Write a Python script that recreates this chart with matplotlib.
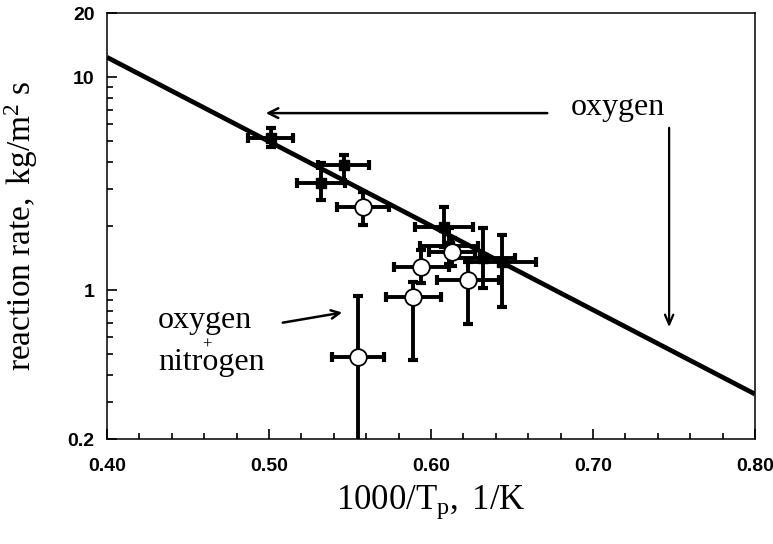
import numpy as np
import matplotlib
matplotlib.use("Agg")
import matplotlib.pyplot as plt
from matplotlib.ticker import FixedLocator, NullFormatter

plt.rcParams["mathtext.fontset"] = "custom"
plt.rcParams["mathtext.rm"] = "Liberation Serif"
plt.rcParams["mathtext.it"] = "Liberation Serif:italic"

# fitted rate line (end points on the axis range)
line_x = [0.40, 0.80]
line_y = [12.4, 0.325]

# oxygen runs (filled)
o2_x = [0.501, 0.532, 0.546, 0.608, 0.611, 0.632, 0.644]
o2_y = [5.2, 3.2, 3.85, 1.98, 1.62, 1.42, 1.35]
o2_xerr = [0.014, 0.015, 0.016, 0.018, 0.018, 0.020, 0.021]
o2_ylo = [4.7, 2.65, 3.2, 1.6, 1.32, 1.02, 0.83]
o2_yhi = [5.8, 3.95, 4.3, 2.45, 1.95, 1.96, 1.81]

# open symbols
op_x = [0.558, 0.613, 0.594, 0.623, 0.589, 0.555]
op_y = [2.45, 1.51, 1.28, 1.11, 0.93, 0.485]
op_xerr = [0.016, 0.014, 0.017, 0.019, 0.017, 0.016]
op_ylo = [2.02, 1.30, 1.08, 0.69, 0.47, 0.15]
op_yhi = [2.89, 1.75, 1.54, 1.36, 1.09, 0.94]

y_major = [0.2, 1, 10, 20]
y_major_labels = ["0.2", "1", "10", "20"]
y_minor = [0.3, 0.4, 0.5, 0.6, 0.7, 0.8, 0.9, 2, 3, 4, 5, 6, 7, 8, 9]
x_major = [0.40, 0.50, 0.60, 0.70, 0.80]

fig = plt.figure(figsize=(7.73, 5.44), dpi=100)
ax = fig.add_axes([0.1384, 0.193, 0.8383, 0.783])
ax.set_yscale("log")

ax.plot(line_x, line_y, color="black", lw=3.4, solid_capstyle="butt", zorder=2)

def bars(x, y, xerr, ylo, yhi, **kw):
    y = np.array(y)
    yerr = [y - np.array(ylo), np.array(yhi) - y]
    ax.errorbar(x, y, xerr=xerr, yerr=yerr, fmt="none", ecolor="black",
                elinewidth=2.8, capsize=3.6, capthick=3.0, zorder=3)
    ax.plot(x, y, linestyle="none", zorder=4, **kw)

bars(o2_x, o2_y, o2_xerr, o2_ylo, o2_yhi,
     marker="s", markersize=7, color="black")
bars(op_x, op_y, op_xerr, op_ylo, op_yhi,
     marker="o", markersize=12, markerfacecolor="white",
     markeredgecolor="black", markeredgewidth=1.3)

ax.set_xlim(0.40, 0.80)
ax.set_ylim(0.2, 20)

ax.xaxis.set_major_locator(FixedLocator(x_major))
ax.xaxis.set_minor_locator(FixedLocator(np.arange(0.42, 0.80, 0.02)))
ax.set_xticklabels(["%.2f" % v for v in x_major])
ax.yaxis.set_major_locator(FixedLocator(y_major))
ax.yaxis.set_minor_locator(FixedLocator(y_minor))
ax.set_yticklabels(y_major_labels)
ax.yaxis.set_minor_formatter(NullFormatter())

ax.tick_params(which="both", direction="in", top=False, right=False,
               width=1.2, labelsize=14)
ax.tick_params(which="major", length=7)
ax.tick_params(which="minor", length=4)
ax.tick_params(axis="x", pad=14)
ax.tick_params(axis="y", pad=9)
for lab in ax.get_xticklabels() + ax.get_yticklabels():
    lab.set_fontweight("bold")
    lab.set_family("Liberation Sans")
for sp in ax.spines.values():
    sp.set_linewidth(1.1)

ax.set_xlabel(r"$\mathrm{1000/T_p,\ 1/K}$", fontsize=25)
ax.set_ylabel(r"$\mathrm{reaction\ rate,\ kg/m^2\ s}$", fontsize=24)
ax.xaxis.set_label_coords(0.5, -0.105)
ax.yaxis.set_label_coords(-0.103, 0.5)

serif = "Liberation Serif"
ax.text(0.7154, 7.17, "oxygen", family=serif, fontsize=23,
        ha="center", va="center")
ax.annotate("", xy=(0.4963, 6.78), xytext=(0.6735, 6.78),
            arrowprops=dict(arrowstyle="->,head_length=0.7,head_width=0.35",
                            lw=1.8, color="black"))
ax.annotate("", xy=(0.747, 0.65), xytext=(0.747, 5.96),
            arrowprops=dict(arrowstyle="->,head_length=0.7,head_width=0.3",
                            lw=1.6, color="black"))

ax.text(0.4605, 0.724, "oxygen", family=serif, fontsize=23,
        ha="center", va="center")
ax.text(0.4617, 0.553, "+", family=serif, fontsize=12,
        ha="center", va="center")
ax.text(0.4648, 0.455, "nitrogen", family=serif, fontsize=23,
        ha="center", va="center")
ax.annotate("", xy=(0.5469, 0.789), xytext=(0.5068, 0.70),
            arrowprops=dict(arrowstyle="->,head_length=0.6,head_width=0.3",
                            lw=1.8, color="black"))

fig.savefig("out.png", dpi=100)
